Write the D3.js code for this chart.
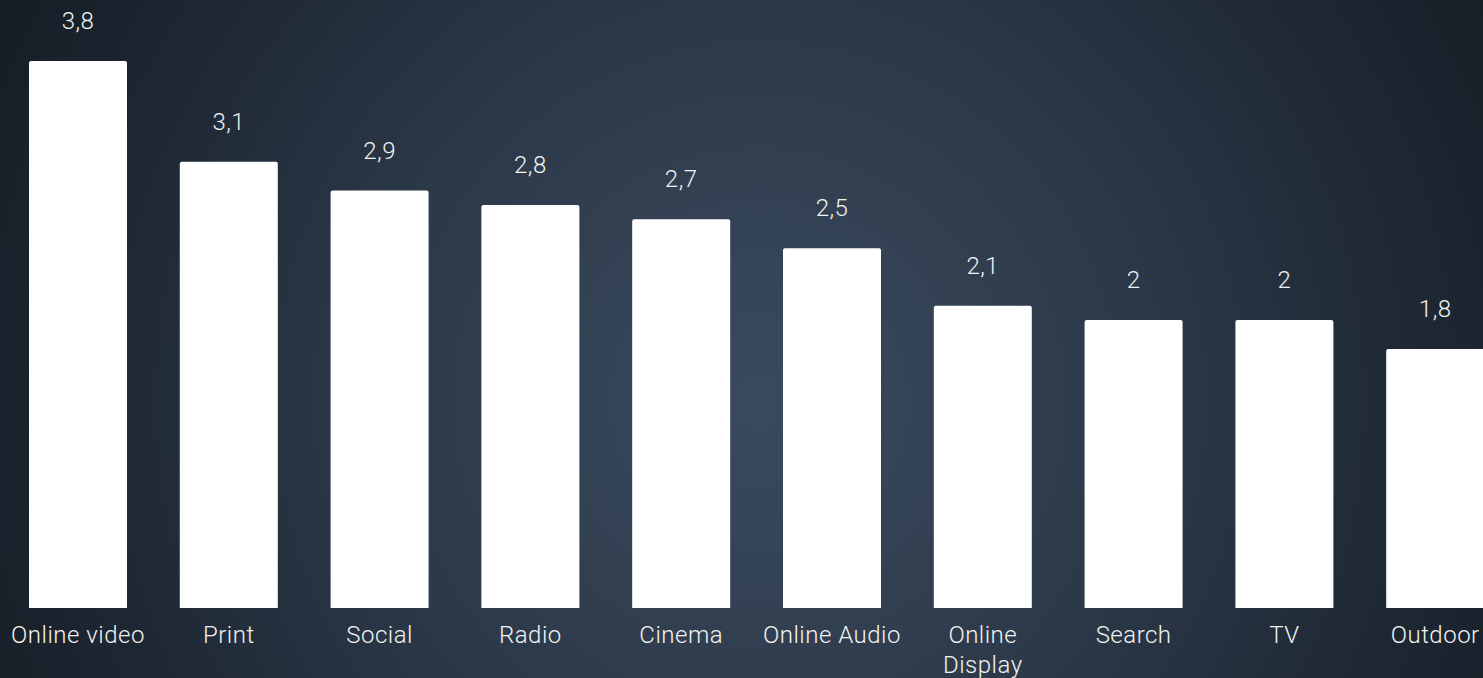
<!DOCTYPE html>
<html>
<head>
<meta charset="utf-8">
<script src="https://cdn.jsdelivr.net/npm/d3@7"></script>
<style>
  html, body { margin: 0; padding: 0; overflow: hidden; background: #1b2430; }
  svg { display: block; }
  text { font-family: Roboto, "Noto Sans", sans-serif; font-weight: 300; letter-spacing: 0.5px; }
</style>
</head>
<body>
<svg id="chart" width="1483" height="678"></svg>
<script>
const categories = ["Online video", "Print", "Social", "Radio", "Cinema", "Online Audio", "Online Display", "Search", "TV", "Outdoor"];
const values = [3.8, 3.1, 2.9, 2.8, 2.7, 2.5, 2.1, 2, 2, 1.8];
const valueLabels = ["3,8", "3,1", "2,9", "2,8", "2,7", "2,5", "2,1", "2", "2", "1,8"];

const W = 1483, H = 678;
const svg = d3.select("#chart");

const defs = svg.append("defs");
const grad = defs.append("radialGradient")
  .attr("id", "bg").attr("gradientUnits", "userSpaceOnUse")
  .attr("cx", 760).attr("cy", 400).attr("r", 880);
grad.append("stop").attr("offset", "0").attr("stop-color", "#3a4a5e");
grad.append("stop").attr("offset", "0.45").attr("stop-color", "#2b3848");
grad.append("stop").attr("offset", "1").attr("stop-color", "#141b23");
svg.append("rect").attr("width", W).attr("height", H).attr("fill", "url(#bg)");

const x = d3.scaleBand().domain(categories).range([2.6, 1510.6]).paddingInner(0.35).paddingOuter(0.175);
const y = d3.scaleLinear().domain([0, 3.8]).range([608, 61]);

const bw = 98;
const g = svg.append("g");
const r = 2;

g.selectAll("path.bar").data(categories).enter().append("path")
  .attr("class", "bar")
  .attr("fill", "#ffffff")
  .attr("d", (c, i) => {
    const cx = x(c) + x.bandwidth() / 2;
    const x0 = cx - bw / 2, x1 = cx + bw / 2;
    const yt = y(values[i]), yb = y(0);
    return `M${x0},${yb}V${yt + r}Q${x0},${yt} ${x0 + r},${yt}H${x1 - r}Q${x1},${yt} ${x1},${yt + r}V${yb}Z`;
  });

g.selectAll("text.val").data(categories).enter().append("text")
  .attr("class", "val")
  .attr("x", c => x(c) + x.bandwidth() / 2)
  .attr("y", (c, i) => y(values[i]) - 32)
  .attr("text-anchor", "middle")
  .attr("fill", "#f2f2f2")
  .attr("font-size", 24)
  .text((c, i) => valueLabels[i]);

const lab = g.selectAll("text.cat").data(categories).enter().append("text")
  .attr("class", "cat")
  .attr("x", c => x(c) + x.bandwidth() / 2)
  .attr("y", 643)
  .attr("text-anchor", "middle")
  .attr("fill", "#f2f2f2")
  .attr("font-size", 24);

lab.each(function(c) {
  const t = d3.select(this);
  const cx = x(c) + x.bandwidth() / 2;
  if (c === "Online Display") {
    t.append("tspan").attr("x", cx).attr("dy", 0).text("Online");
    t.append("tspan").attr("x", cx).attr("dy", 30).text("Display");
  } else {
    t.text(c);
  }
});
</script>
</body>
</html>
